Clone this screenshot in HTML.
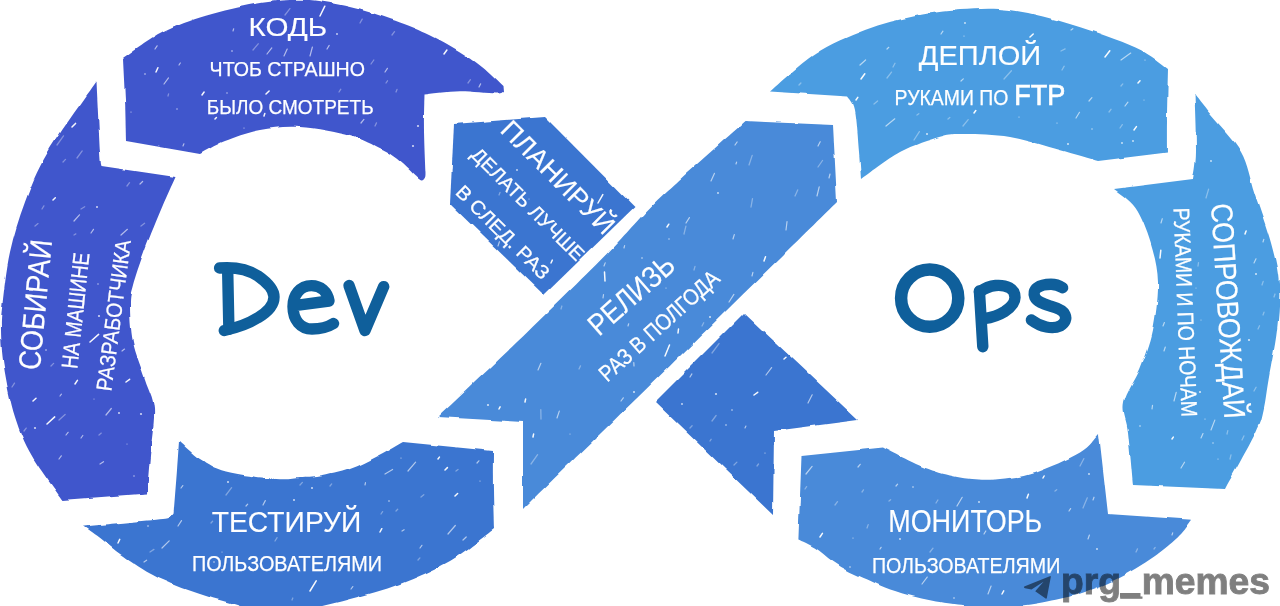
<!DOCTYPE html>
<html><head><meta charset="utf-8"><title>DevOps</title>
<style>
html,body{margin:0;padding:0;background:#fff;}
body{width:1280px;height:606px;overflow:hidden;font-family:"Liberation Sans",sans-serif;}
svg{display:block}
text{font-family:"Liberation Sans",sans-serif;fill:#fff}
</style></head><body>
<svg width="1280" height="606" viewBox="0 0 1280 606">
<defs><filter id="rough" x="-2%" y="-2%" width="104%" height="104%"><feTurbulence type="fractalNoise" baseFrequency="0.045" numOctaves="2" seed="3" result="n"/><feDisplacementMap in="SourceGraphic" in2="n" scale="3.2" xChannelSelector="R" yChannelSelector="G"/></filter></defs>
<rect width="1280" height="606" fill="#fff"/>
<g filter="url(#rough)">
<path fill="#4157CC" d="M123.0 59.0 C129.2 54.8 147.2 40.9 160.0 34.0 C172.8 27.1 185.0 22.3 200.0 17.5 C215.0 12.7 235.0 7.9 250.0 5.0 C265.0 2.1 278.3 0.6 290.0 0.0 C301.7 -0.6 308.3 -0.4 320.0 1.2 C331.7 2.8 346.7 5.9 360.0 9.5 C373.3 13.1 388.3 18.2 400.0 22.5 C411.7 26.8 420.2 30.2 430.0 35.0 C439.8 39.8 450.3 45.7 459.0 51.0 C467.7 56.3 474.8 61.2 482.0 67.0 C489.2 72.8 499.1 82.8 502.5 86.0 L503.0 92.0 C501.8 92.2 503.3 93.6 496.0 93.5 C488.7 93.4 470.9 91.1 459.0 91.3 C447.1 91.5 430.2 94.0 424.5 94.5 C424.4 100.4 423.8 117.1 424.0 130.0 C424.2 142.9 425.2 165.0 425.5 172.0 C425.4 172.9 425.7 176.1 425.0 177.5 C424.3 178.9 423.0 180.7 421.5 180.5 C420.0 180.3 416.9 177.2 416.0 176.5 C413.8 174.4 407.1 167.6 403.0 164.0 C398.9 160.4 395.3 157.6 391.5 155.0 C387.7 152.4 386.8 151.7 380.0 148.5 C373.2 145.3 364.3 139.6 351.0 136.0 C337.7 132.4 315.2 128.0 300.0 127.0 C284.8 126.0 272.5 127.7 260.0 130.0 C247.5 132.3 235.0 137.0 225.0 141.0 C215.0 145.0 204.2 151.8 200.0 154.0 L126.0 141.0 C125.8 134.2 125.5 113.7 125.0 100.0 C124.5 86.3 123.3 65.8 123.0 59.0 Z"/>
<path fill="#4157CC" d="M96.5 81.5 C88.4 93.2 59.9 131.9 48.0 152.0 C36.1 172.1 31.3 185.3 25.0 202.0 C18.7 218.7 13.8 235.0 10.0 252.0 C6.2 269.0 4.0 291.0 2.5 304.0 C1.0 317.0 0.8 319.5 1.0 330.0 C1.2 340.5 1.7 352.5 4.0 367.0 C6.3 381.5 10.3 402.2 15.0 417.0 C19.7 431.8 24.1 442.2 32.0 456.0 C39.9 469.8 57.4 492.7 62.5 500.0 L147.0 493.5 C147.5 487.2 148.8 470.1 150.0 456.0 C151.2 441.9 154.8 421.8 154.0 409.0 C153.2 396.2 148.5 390.2 145.0 379.0 C141.5 367.8 135.5 354.5 133.0 342.0 C130.5 329.5 130.0 313.5 130.0 304.0 C130.0 294.5 130.7 293.7 133.0 285.0 C135.3 276.3 139.5 264.2 144.0 252.0 C148.5 239.8 154.8 224.5 160.0 212.0 C165.2 199.5 172.9 182.8 175.5 177.0 L101.5 166.0 C101.2 163.7 100.8 166.1 100.0 152.0 C99.2 137.9 97.1 93.2 96.5 81.5 Z"/>
<path fill="#3B75D0" d="M179.0 441.0 C182.5 444.0 192.2 453.9 200.0 459.0 C207.8 464.1 213.3 468.2 226.0 471.5 C238.7 474.8 263.7 477.9 276.0 479.0 C288.3 480.1 292.7 478.4 300.0 478.0 C307.3 477.6 311.7 478.0 320.0 476.5 C328.3 475.0 340.3 472.4 350.0 469.0 C359.7 465.6 369.2 460.5 378.0 456.0 C386.8 451.5 398.8 444.3 403.0 442.0 L493.0 451.0 C493.0 457.5 492.8 477.0 493.0 490.0 C493.2 503.0 493.8 522.5 494.0 529.0 C486.7 534.3 465.7 551.8 450.0 561.0 C434.3 570.2 416.7 577.7 400.0 584.0 C383.3 590.3 366.7 594.7 350.0 599.0 C333.3 603.3 315.8 608.3 300.0 610.0 C284.2 611.7 266.3 610.1 255.0 609.0 C243.7 607.9 240.2 605.7 232.0 603.5 C223.8 601.3 215.5 599.1 206.0 596.0 C196.5 592.9 184.3 588.8 175.0 585.0 C165.7 581.2 159.3 578.8 150.0 573.5 C140.7 568.2 127.8 559.4 119.4 553.4 C111.0 547.4 105.5 542.0 99.6 537.5 C93.7 533.0 86.6 528.3 84.0 526.5 C91.0 525.8 112.8 523.6 126.0 522.4 C139.2 521.1 155.7 519.9 163.0 519.0 C170.3 518.1 168.2 517.9 170.0 517.0 C171.8 516.1 173.0 514.1 173.6 513.5 C174.2 506.2 176.1 482.1 177.0 470.0 C177.9 457.9 178.7 445.8 179.0 441.0 Z"/>
<path fill="#3B75D0" d="M454.0 124.0 L545.0 117.0 L634.5 207.0 L544.0 295.0 L450.0 204.0 L454.0 124.0 Z"/>
<path fill="#488AD9" d="M745.6 121.0 L833.0 125.0 L837.0 202.0 C810.8 227.7 732.3 304.8 680.0 356.0 C627.7 407.2 549.2 483.5 523.0 509.0 L523.0 422.0 L438.0 417.0 C453.0 402.8 499.7 358.9 528.0 331.5 C556.3 304.1 587.7 273.2 608.0 252.5 C628.3 231.8 637.8 219.8 650.0 207.5 C662.2 195.2 665.1 192.9 681.0 178.5 C696.9 164.1 734.8 130.6 745.6 121.0 Z"/>
<path fill="#4C9DE1" d="M770.0 91.5 C777.5 85.2 799.2 64.2 815.0 54.0 C830.8 43.8 848.2 36.3 865.0 30.0 C881.8 23.7 899.7 19.3 915.5 16.0 C931.3 12.7 944.2 11.0 960.0 10.0 C975.8 9.0 991.2 7.5 1010.0 10.0 C1028.8 12.5 1052.1 18.7 1073.0 25.0 C1093.9 31.3 1119.7 40.3 1135.5 47.6 C1151.3 54.9 1162.6 65.4 1168.0 69.0 C1167.8 77.5 1167.2 106.1 1167.0 120.0 C1166.8 133.9 1167.0 147.1 1167.0 152.5 L1098.0 161.0 C1091.7 159.2 1074.7 154.0 1060.0 150.0 C1045.3 146.0 1025.8 139.7 1010.0 137.0 C994.2 134.3 976.7 134.1 965.0 134.0 C953.3 133.9 950.8 133.7 940.0 136.7 C929.2 139.7 913.2 144.9 900.0 152.0 C886.8 159.1 867.5 174.5 861.0 179.0 C860.7 174.5 860.0 163.5 859.0 152.0 C858.0 140.5 856.8 119.2 855.0 110.0 C853.2 100.8 849.2 98.8 848.0 96.5 L770.0 91.5 Z"/>
<path fill="#4C9DE1" d="M1194.5 94.0 C1197.2 97.5 1203.2 105.3 1211.0 115.0 C1218.8 124.7 1233.8 139.0 1241.0 152.0 C1248.2 165.0 1249.5 177.8 1254.5 193.0 C1259.5 208.2 1266.9 227.8 1271.0 243.0 C1275.1 258.2 1278.0 269.5 1279.0 284.0 C1280.0 298.5 1278.8 314.0 1277.0 330.0 C1275.2 346.0 1270.8 366.7 1268.5 380.0 C1266.2 393.3 1265.6 401.3 1263.5 410.0 C1261.4 418.7 1262.4 418.8 1256.0 432.0 C1249.6 445.2 1230.2 479.5 1225.0 489.0 L1133.0 485.0 C1132.2 476.2 1129.5 445.7 1128.0 432.0 C1126.5 418.3 1121.9 413.7 1124.0 403.0 C1126.1 392.3 1135.7 380.2 1140.5 368.0 C1145.3 355.8 1150.1 344.3 1153.0 330.0 C1155.9 315.7 1158.4 296.5 1158.0 282.0 C1157.6 267.5 1154.3 255.3 1150.6 243.0 C1146.8 230.7 1141.6 217.0 1135.5 208.0 C1129.4 199.0 1117.6 192.2 1114.0 189.0 L1193.0 179.0 C1193.5 174.5 1195.8 166.2 1196.0 152.0 C1196.2 137.8 1194.8 103.7 1194.5 94.0 Z"/>
<path fill="#488AD9" d="M801.5 456.0 L883.0 447.6 C889.3 450.7 909.4 461.4 920.6 466.0 C931.8 470.6 940.4 473.2 950.0 475.5 C959.6 477.8 968.8 479.0 978.0 479.5 C987.2 480.0 995.5 479.6 1005.0 478.5 C1014.5 477.4 1022.5 477.0 1035.0 472.7 C1047.5 468.4 1069.3 459.1 1080.0 452.6 C1090.7 446.2 1095.8 437.1 1099.0 434.0 L1108.0 514.0 L1192.0 519.7 C1190.6 521.6 1186.6 527.5 1183.6 531.0 C1180.6 534.5 1178.8 536.5 1174.0 540.7 C1169.2 544.9 1161.4 551.4 1155.0 556.0 C1148.6 560.6 1142.1 564.7 1135.7 568.5 C1129.3 572.3 1123.0 575.8 1116.6 579.0 C1110.2 582.2 1103.8 585.1 1097.4 587.6 C1091.0 590.1 1084.5 592.4 1078.3 594.3 C1072.1 596.2 1066.0 597.4 1060.0 598.8 C1054.0 600.1 1049.0 601.2 1042.0 602.4 C1035.0 603.6 1025.3 605.1 1018.0 606.0 C1010.7 606.9 1004.3 607.3 998.0 607.5 C991.7 607.7 985.6 607.4 980.0 607.0 C974.4 606.6 971.7 606.1 964.4 605.2 C957.1 604.3 945.4 603.2 936.0 601.5 C926.6 599.8 916.5 597.3 908.0 595.0 C899.5 592.7 891.8 590.1 885.0 587.5 C878.2 584.9 873.3 582.2 867.5 579.6 C861.7 577.0 855.8 574.8 850.0 571.8 C844.2 568.8 838.3 565.3 832.5 561.3 C826.7 557.3 820.7 551.4 815.0 547.8 C809.3 544.1 801.2 540.8 798.4 539.4 L801.5 456.0 Z"/>
<path fill="#3B75D0" d="M744.0 313.0 L858.0 420.0 L774.0 431.0 L773.0 515.0 L655.0 402.0 L744.0 313.0 Z"/>
</g>
<g stroke="#fff" stroke-linecap="round" fill="none"><path opacity="0.35" stroke-width="1.3" d="M375 126l1.5 -3.1 M1062 70l2.2 -3.8 M99 435l2.3 -1.9 M226 495l5.6 -7.3 M456 471l2.0 -1.5 M1242 440l1.9 -4.1 M360 23l2.2 -3.9 M499 195l1.0 -2.6 M1206 198l2.6 -8.9 M531 464l6.6 -9.3 M1262 285l1.2 -3.6 M1080 466l3.8 -7.3 M757 466l1.5 -2.0 M51 366l2.6 -2.6 M1109 112l2.0 -2.7 M285 15l4.9 -6.4 M63 162l2.5 -2.6 M392 35l2.5 -3.3 M1055 491l1.7 -1.3 M1258 329l1.5 -3.2 M712 421l4.1 -5.5 M141 226l3.6 -2.7 M862 492l1.5 -2.1 M275 541l2.1 -3.3 M1274 297l1.0 -3.0 M81 209l3.7 -2.2 M396 511l1.7 -1.7 M579 369l1.5 -3.1 M150 552l3.9 -2.6 M710 441l1.1 -1.7 M77 158l5.2 -7.1 M835 505l2.5 -3.3 M12 387l2.5 -3.9 M702 326l1.7 -3.2 M751 207l1.5 -8.3 M127 186l2.5 -3.3 M1198 266l0.5 -3.4 M168 96l0.6 -2.2 M1083 508l4.3 -10.2 M734 465l2.9 -2.9 M418 560l1.9 -2.1 M874 104l3.6 -3.1 M561 309l0.9 -3.0 M749 165l3.2 -9.6 M1004 79l7.4 -8.3 M330 486l1.7 -2.1 M253 50l5.2 -6.2 M468 83l2.4 -3.3 M386 83l1.5 -2.2 M690 428l2.1 -2.2 M1227 434l0.8 -3.3 M936 503l1.9 -3.0 M1061 51l4.1 -2.1 M887 78l4.5 -5.9 M74 235l1.8 -1.1 M930 552l3.0 -3.8 M42 209l1.9 -3.1 M1154 549l1.2 -1.6 M684 234l1.9 -7.8 M1136 552l1.5 -3.1 M381 514l1.6 -2.4 M59 420l6.1 -5.6 M300 485l2.4 -2.6 M541 419l-0.2 -9.4 M805 489l1.6 -2.4 M799 85l1.9 -2.0 M948 119l1.8 -1.5 M694 270l1.0 -3.7 M1120 128l2.3 -3.4 M421 497l2.8 -2.3 M57 145l6.5 -9.1 M963 126l5.2 -6.3 M396 92l1.0 -2.6 M292 600l0.8 -2.0 M867 528l1.2 -3.4 M1121 86l1.8 -2.1 M339 92l1.8 -2.8 M35 226l3.0 -2.4 M1263 315l1.0 -2.8 M795 196l2.7 -6.1 M712 353l7.0 -9.4 M818 167l4.5 -6.5 M1254 391l2.1 -3.8 M889 501l1.6 -1.3 M917 115l1.8 -1.3 M24 431l2.2 -2.9 M371 64l2.8 -4.0 M1230 459l1.0 -4.1 M211 523l1.6 -1.8 M893 67l2.0 -3.7 M914 140l5.4 -8.4"/><path opacity="0.60" stroke-width="1.2" d="M106 415l5.3 -6.5 M604 266l1.2 -3.1 M463 540l3.2 -3.0 M624 248l0.6 -2.4 M144 562l2.6 -1.8 M1161 223l1.3 -4.3 M1076 118l3.5 -5.7 M1164 351l1.3 -4.0 M1089 101l2.9 -3.3 M984 534l1.8 -3.0 M402 531l2.1 -1.3 M365 485l0.5 -2.3 M162 548l7.2 -7.1 M634 366l-0.2 -3.4 M267 54l4.8 -6.1 M81 438l1.8 -2.5 M1163 326l1.4 -3.5 M181 488l1.8 -2.4 M284 56l3.2 -7.0 M1069 511l1.6 -2.4 M179 65l1.3 -2.0 M818 146l2.2 -4.3 M361 123l2.9 -3.6 M735 145l2.1 -3.0 M310 56l2.4 -9.0 M957 506l5.2 -8.7 M766 375l5.6 -7.4 M263 505l2.3 -4.4 M246 506l1.7 -1.9 M59 459l2.3 -3.2 M1152 409l0.5 -3.7 M880 549l1.1 -1.7 M1125 106l2.9 -3.8 M858 467l2.2 -2.7 M729 302l4.9 -7.6 M887 49l1.8 -1.7 M1181 468l3.5 -5.8 M351 589l1.8 -2.4 M164 84l4.5 -6.1 M477 463l1.9 -2.2 M74 221l5.5 -6.2 M806 474l6.1 -7.6 M736 164l0.6 -1.9 M711 181l3.4 -7.6 M896 486l1.6 -1.9 M628 326l0.7 -2.2 M1211 430l3.8 -9.9 M1071 30l1.8 -1.3 M733 239l1.3 -4.4 M538 370l2.9 -6.7 M886 126l8.8 -7.2 M1254 263l2.0 -4.2 M941 34l1.9 -2.8 M66 435l2.1 -2.7 M1174 401l2.2 -8.6 M385 72l2.4 -3.7 M140 184l2.6 -2.5 M121 235l6.4 -5.7 M860 65l5.6 -5.0 M178 526l3.5 -5.4 M690 377l1.9 -3.1 M91 233l2.5 -3.7 M686 223l3.4 -5.4 M961 81l2.3 -2.1 M745 428l0.9 -1.9 M233 31l0.7 -2.2 M155 49l2.1 -3.2 M408 471l7.6 -8.9 M1088 539l1.4 -4.0 M420 548l1.9 -2.7 M1172 535l0.7 -2.1 M327 49l2.2 -3.6 M752 276l0.9 -3.7 M786 230l1.0 -8.3 M1201 438l2.0 -4.5 M922 584l5.2 -6.9 M448 534l7.3 -8.5 M808 403l4.2 -8.2 M122 351l2.5 -1.9 M479 87l1.6 -3.1 M988 594l3.1 -8.0 M1263 242l0.8 -2.7 M557 418l2.3 -6.9 M498 246l1.4 -4.3 M1093 500l1.0 -2.8 M621 401l2.3 -3.2 M817 196l2.2 -9.1 M183 146l0.9 -2.2 M1121 60l9.7 -6.9 M829 178l1.0 -4.0 M60 396l1.4 -1.8 M100 464l3.5 -2.3 M385 474l7.6 -4.5 M603 298l0.5 -3.4"/><path opacity="0.95" stroke-width="1.5" d="M90 342l8.6 -7.6 M1027 498l1.4 -3.7 M1002 594l1.7 -3.1 M605 281l-0.5 -8.9 M1160 258l0.8 -7.7 M47 424l7.7 -7.1 M118 543l1.7 -3.6 M380 532l1.8 -3.3 M72 127l3.5 -3.6 M764 261l1.5 -4.3 M754 395l3.7 -2.7 M310 591l6.2 -10.2 M33 401l3.0 -2.7 M1172 439l1.3 -1.9 M525 402l0.6 -2.9 M667 227l1.8 -2.8 M820 537l2.4 -3.7 M438 459l1.4 -1.9 M75 384l2.4 -3.6 M1138 83l2.0 -2.2 M1105 57l4.8 -6.2 M678 333l0.5 -4.0 M126 382l3.6 -2.7 M1043 478l1.1 -2.0 M266 94l3.1 -3.0 M156 72l1.9 -4.3 M856 100l1.8 -2.7 M1134 130l2.4 -3.4 M665 356l4.5 -11.0 M974 113l1.8 -2.5 M445 470l2.4 -2.4 M551 263l1.3 -2.9 M533 437l0.6 -2.9 M264 116l0.8 -2.5 M784 359l2.0 -1.7 M598 203l4.8 -8.4 M444 54l2.9 -4.0 M861 79l3.8 -5.2 M320 16l4.8 -9.8 M455 496l2.6 -2.5 M202 95l2.1 -3.0 M215 119l1.4 -1.5 M499 409l1.1 -2.2 M1030 37l3.2 -3.0 M1245 234l1.1 -3.1 M53 200l2.3 -2.2"/></g>
<g fill="#fff" opacity="0.75"><circle cx="337" cy="34" r="0.9"/><circle cx="1205" cy="419" r="0.6"/><circle cx="1019" cy="117" r="0.6"/><circle cx="413" cy="146" r="1.1"/><circle cx="228" cy="482" r="1.0"/><circle cx="913" cy="487" r="0.8"/><circle cx="177" cy="109" r="0.7"/><circle cx="148" cy="526" r="0.8"/><circle cx="94" cy="399" r="0.5"/><circle cx="119" cy="413" r="1.0"/><circle cx="1122" cy="143" r="0.9"/><circle cx="732" cy="410" r="0.8"/><circle cx="900" cy="539" r="0.9"/><circle cx="232" cy="51" r="0.8"/><circle cx="222" cy="552" r="0.5"/><circle cx="1213" cy="443" r="0.7"/><circle cx="294" cy="500" r="1.0"/><circle cx="401" cy="458" r="0.6"/><circle cx="964" cy="36" r="0.6"/><circle cx="389" cy="501" r="0.8"/><circle cx="965" cy="23" r="0.9"/><circle cx="1089" cy="474" r="0.9"/><circle cx="710" cy="317" r="1.0"/><circle cx="1144" cy="100" r="0.5"/><circle cx="979" cy="502" r="0.9"/><circle cx="517" cy="170" r="0.9"/><circle cx="1145" cy="60" r="0.6"/><circle cx="227" cy="93" r="0.7"/><circle cx="480" cy="481" r="0.6"/><circle cx="1249" cy="340" r="1.1"/><circle cx="97" cy="207" r="1.0"/><circle cx="1201" cy="320" r="0.5"/><circle cx="1140" cy="426" r="0.8"/><circle cx="134" cy="476" r="0.7"/><circle cx="853" cy="538" r="0.6"/><circle cx="666" cy="288" r="0.6"/><circle cx="634" cy="392" r="1.0"/><circle cx="244" cy="128" r="0.6"/><circle cx="145" cy="74" r="0.8"/><circle cx="98" cy="284" r="0.7"/><circle cx="1218" cy="459" r="0.6"/><circle cx="418" cy="126" r="1.1"/><circle cx="682" cy="404" r="0.9"/><circle cx="1256" cy="274" r="1.0"/><circle cx="1196" cy="288" r="0.5"/><circle cx="529" cy="199" r="0.5"/><circle cx="927" cy="134" r="1.0"/><circle cx="488" cy="405" r="1.1"/><circle cx="718" cy="193" r="0.9"/><circle cx="642" cy="258" r="0.8"/><circle cx="127" cy="444" r="0.5"/><circle cx="669" cy="239" r="0.7"/><circle cx="1211" cy="161" r="0.9"/><circle cx="1068" cy="144" r="1.0"/><circle cx="214" cy="562" r="0.8"/><circle cx="99" cy="316" r="1.1"/><circle cx="1133" cy="141" r="0.9"/><circle cx="850" cy="567" r="0.8"/><circle cx="131" cy="112" r="0.6"/><circle cx="35" cy="428" r="1.1"/><circle cx="1200" cy="392" r="1.1"/><circle cx="46" cy="350" r="0.8"/><circle cx="954" cy="598" r="0.8"/><circle cx="312" cy="488" r="1.0"/><circle cx="765" cy="453" r="0.6"/><circle cx="1057" cy="123" r="0.6"/><circle cx="141" cy="414" r="1.1"/><circle cx="570" cy="434" r="0.5"/><circle cx="716" cy="394" r="1.1"/><circle cx="726" cy="425" r="0.8"/><circle cx="1097" cy="549" r="0.9"/><circle cx="1092" cy="129" r="0.7"/></g>
<g opacity="0.999">
<text transform="translate(250.3 35.6) rotate(0.00)" x="-1.8" y="0" font-size="26.2" textLength="78.6" lengthAdjust="spacingAndGlyphs" stroke="#fff" stroke-width="0.15">КОДЬ</text>
<text transform="translate(211.4 76.4) rotate(0.00)" x="-1.8" y="0" font-size="20.8" textLength="155.4" lengthAdjust="spacingAndGlyphs" stroke="#fff" stroke-width="0.25">ЧТОБ СТРАШНО</text>
<text transform="translate(208.5 113.5) rotate(0.00)" x="-1.8" y="0" font-size="21.0" textLength="166.9" lengthAdjust="spacingAndGlyphs" stroke="#fff" stroke-width="0.25">БЫЛО СМОТРЕТЬ</text>
<text transform="translate(213.5 532.0) rotate(0.00)" x="-1.8" y="0" font-size="29.8" textLength="149.7" lengthAdjust="spacingAndGlyphs" stroke="#fff" stroke-width="0.15">ТЕСТИРУЙ</text>
<text transform="translate(193.7 570.8) rotate(0.00)" x="-1.8" y="0" font-size="21.2" textLength="190.1" lengthAdjust="spacingAndGlyphs" stroke="#fff" stroke-width="0.25">ПОЛЬЗОВАТЕЛЯМИ</text>
<text transform="translate(920.6 65.2) rotate(0.00)" x="-1.8" y="0" font-size="28.5" textLength="122.4" lengthAdjust="spacingAndGlyphs" stroke="#fff" stroke-width="0.15">ДЕПЛОЙ</text>
<text transform="translate(896.4 105.0) rotate(0.00)" x="-1.8" y="0" font-size="21.6" textLength="113.8" lengthAdjust="spacingAndGlyphs" stroke="#fff" stroke-width="0.25">РУКАМИ ПО</text>
<text transform="translate(1016.0 105.0) rotate(0.00)" x="-1.8" y="0" font-size="29.3" textLength="51.2" lengthAdjust="spacingAndGlyphs" stroke="#fff" stroke-width="0.70">FTP</text>
<text transform="translate(890.0 532.0) rotate(0.00)" x="-1.8" y="0" font-size="31.0" textLength="154.1" lengthAdjust="spacingAndGlyphs" stroke="#fff" stroke-width="0.15">МОНИТОРЬ</text>
<text transform="translate(873.7 573.0) rotate(0.00)" x="-1.8" y="0" font-size="22.4" textLength="188.4" lengthAdjust="spacingAndGlyphs" stroke="#fff" stroke-width="0.25">ПОЛЬЗОВАТЕЛЯМИ</text>
<text transform="translate(500.3 132.5) rotate(45.00)" x="-1.8" y="0" font-size="26.5" textLength="148.6" lengthAdjust="spacingAndGlyphs" stroke="#fff" stroke-width="0.15">ПЛАНИРУЙ</text>
<text transform="translate(471.3 157.0) rotate(45.00)" x="-1.8" y="0" font-size="19.4" textLength="150.4" lengthAdjust="spacingAndGlyphs" stroke="#fff" stroke-width="0.25">ДЕЛАТЬ ЛУЧШЕ</text>
<text transform="translate(455.7 194.6) rotate(45.00)" x="-1.8" y="0" font-size="19.4" textLength="123.6" lengthAdjust="spacingAndGlyphs" stroke="#fff" stroke-width="0.25">В СЛЕД. РАЗ</text>
<text transform="translate(600.3 335.8) rotate(-41.34)" x="-1.8" y="0" font-size="30.3" textLength="104.4" lengthAdjust="spacingAndGlyphs" stroke="#fff" stroke-width="0.15">РЕЛИЗЬ</text>
<text transform="translate(608.5 381.5) rotate(-41.94)" x="-1.8" y="0" font-size="22.6" textLength="153.2" lengthAdjust="spacingAndGlyphs" stroke="#fff" stroke-width="0.25">РАЗ В ПОЛГОДА</text>
<text transform="translate(1211.2 205.8) rotate(86.48)" x="-1.8" y="0" font-size="30.3" textLength="215.6" lengthAdjust="spacingAndGlyphs" stroke="#fff" stroke-width="0.15">СОПРОВОЖДАЙ</text>
<text transform="translate(1173.6 209.8) rotate(87.80)" x="-1.8" y="0" font-size="22.6" textLength="209.4" lengthAdjust="spacingAndGlyphs" stroke="#fff" stroke-width="0.25">РУКАМИ И ПО НОЧАМ</text>
<text transform="translate(39.8 368.9) rotate(-84.48)" x="-1.8" y="0" font-size="31.0" textLength="130.5" lengthAdjust="spacingAndGlyphs" stroke="#fff" stroke-width="0.15">СОБИРАЙ</text>
<text transform="translate(77.5 367.5) rotate(-84.00)" x="-1.8" y="0" font-size="23.0" textLength="116.4" lengthAdjust="spacingAndGlyphs" stroke="#fff" stroke-width="0.25">НА МАШИНЕ</text>
<text transform="translate(111.5 390.0) rotate(-82.54)" x="-1.8" y="0" font-size="22.0" textLength="152.2" lengthAdjust="spacingAndGlyphs" stroke="#fff" stroke-width="0.25">РАЗРАБОТЧИКА</text>
</g>
<g fill="none" stroke="#0F5F9B" stroke-width="11.4" stroke-linecap="round" stroke-linejoin="round">
<path d="M227.7 271.6 L228.9 329.4"/>
<path d="M219.6 268 C232 267 246 268 258 276 C268 283 274 290 274 297 C274 306 266 313 257.8 317.8 C248 324 236 328 224.3 330.5"/>
<path d="M294.5 305.6 L329 301 C327.5 291.5 320.5 285.6 311.5 285.6 C300 285.6 293 295 293 306.5 C293 320 300.5 329 312 329 C321 329 328 327 333.5 323.5"/>
<path d="M349 285.5 L365 330.5 L383.7 286.6"/>
<ellipse cx="929.7" cy="298.2" rx="28.6" ry="28.6" stroke-width="12.5"/>
<path d="M979.4 291 L982.8 346.7"/>
<path d="M979.4 292 C985 288 990 286 995.6 285.5 C1001 285 1006 286 1009.4 287.8 C1013.5 290 1015 293 1015 297.5 C1015 303 1010.5 307.5 1005 311.3 C999 315 992 317.5 984 318.7"/>
<path d="M1062.6 287.8 C1059 285.5 1055 284.3 1051 284.3 C1046 284.3 1041 285 1037 287.8 C1034 290 1033.5 294 1034.8 297 C1037 302 1044 304 1051 306.3 C1057 308 1063 310 1064.9 314.4 C1067 319 1065 323 1060.3 325.9 C1056 328 1051 328 1046.4 327 C1041 326 1036 323.5 1031.4 320"/>
</g>
<g opacity="0.5">
<path fill="#000" d="M1024.2 586.6 Q1023.2 587.8 1025 588.3 L1031.5 589.4 L1043.5 581.8 L1035.2 591.3 L1045.6 598.6 Q1046.6 599 1046.9 597.8 L1050.8 577 Q1051 575.7 1049.8 576.2 Z"/>
<text x="1061" y="594.3" font-size="36" font-weight="700" style="fill:#000" stroke="#000" stroke-width="0.9" textLength="209" lengthAdjust="spacingAndGlyphs">prg_memes</text>
<rect x="1120" y="593" width="20.5" height="4.2" fill="#000"/>
</g>
</svg>
</body></html>
